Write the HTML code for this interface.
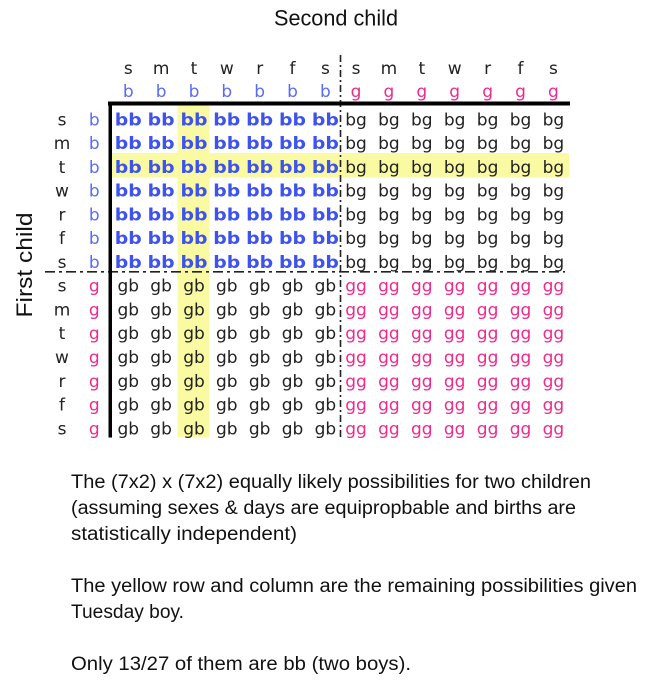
<!DOCTYPE html>
<html>
<head>
<meta charset="utf-8">
<style>
  html,body{margin:0;padding:0;background:#fff;}
  svg{display:block;}
  .g text{font-family:"DejaVu Sans",sans-serif;font-size:17px;text-anchor:middle;}
  .B text{font-family:"DejaVu Sans",sans-serif;font-weight:bold;font-size:17px;fill:#3d52ee;text-anchor:middle;}
  .N{fill:#222;}
  .P{fill:#ee2a8c;}
  .L{fill:#5a6cf3;}
  .cal{font-family:"Liberation Sans",sans-serif;fill:#111;}
</style>
</head>
<body>
<svg width="655" height="693" viewBox="0 0 655 693" xmlns="http://www.w3.org/2000/svg">
  <rect width="655" height="693" fill="#fff"/>
  <!-- yellow highlights -->
  <rect x="112" y="153" width="457" height="24.5" fill="#fafaa2"/>
  <rect x="177.5" y="105" width="32" height="332" fill="#fafaa2"/>

  <!-- titles -->
  <text class="cal" x="336" y="25.7" font-size="22" text-anchor="middle" textLength="124" lengthAdjust="spacingAndGlyphs">Second child</text>
  <text class="cal" transform="translate(32,265) rotate(-90)" x="0" y="0" font-size="22" text-anchor="middle" textLength="105" lengthAdjust="spacingAndGlyphs">First child</text>

  <g class="g">
    <!-- header day letters -->
    <text class="N" y="74"><tspan x="128.3">s</tspan><tspan x="161.1">m</tspan><tspan x="194">t</tspan><tspan x="226.8">w</tspan><tspan x="259.7">r</tspan><tspan x="292.5">f</tspan><tspan x="325.4">s</tspan><tspan x="356">s</tspan><tspan x="388.9">m</tspan><tspan x="421.8">t</tspan><tspan x="454.7">w</tspan><tspan x="487.6">r</tspan><tspan x="520.5">f</tspan><tspan x="553.4">s</tspan></text>
    <text class="L" y="97"><tspan x="128.3">b</tspan><tspan x="161.1">b</tspan><tspan x="194">b</tspan><tspan x="226.8">b</tspan><tspan x="259.7">b</tspan><tspan x="292.5">b</tspan><tspan x="325.4">b</tspan></text>
    <text class="P" y="97"><tspan x="356">g</tspan><tspan x="388.9">g</tspan><tspan x="421.8">g</tspan><tspan x="454.7">g</tspan><tspan x="487.6">g</tspan><tspan x="520.5">g</tspan><tspan x="553.4">g</tspan></text>

    <!-- row labels -->
    <text class="N" x="62"><tspan x="62" y="125.3">s</tspan><tspan x="62" y="149.1">m</tspan><tspan x="62" y="172.8">t</tspan><tspan x="62" y="196.6">w</tspan><tspan x="62" y="220.4">r</tspan><tspan x="62" y="244.2">f</tspan><tspan x="62" y="267.9">s</tspan><tspan x="62" y="291.7">s</tspan><tspan x="62" y="315.5">m</tspan><tspan x="62" y="339.2">t</tspan><tspan x="62" y="363">w</tspan><tspan x="62" y="386.8">r</tspan><tspan x="62" y="410.5">f</tspan><tspan x="62" y="434.3">s</tspan></text>
    <text class="L"><tspan x="94.3" y="125.3">b</tspan><tspan x="94.3" y="149.1">b</tspan><tspan x="94.3" y="172.8">b</tspan><tspan x="94.3" y="196.6">b</tspan><tspan x="94.3" y="220.4">b</tspan><tspan x="94.3" y="244.2">b</tspan><tspan x="94.3" y="267.9">b</tspan></text>
    <text class="P"><tspan x="94.3" y="291.7">g</tspan><tspan x="94.3" y="315.5">g</tspan><tspan x="94.3" y="339.2">g</tspan><tspan x="94.3" y="363">g</tspan><tspan x="94.3" y="386.8">g</tspan><tspan x="94.3" y="410.5">g</tspan><tspan x="94.3" y="434.3">g</tspan></text>

    <!-- bg rows (0-6, cols 7-13) -->
    <text class="N" y="125.3"><tspan x="356">bg</tspan><tspan x="388.9">bg</tspan><tspan x="421.8">bg</tspan><tspan x="454.7">bg</tspan><tspan x="487.6">bg</tspan><tspan x="520.5">bg</tspan><tspan x="553.4">bg</tspan></text>
    <text class="N" y="149.1"><tspan x="356">bg</tspan><tspan x="388.9">bg</tspan><tspan x="421.8">bg</tspan><tspan x="454.7">bg</tspan><tspan x="487.6">bg</tspan><tspan x="520.5">bg</tspan><tspan x="553.4">bg</tspan></text>
    <text class="N" y="172.8"><tspan x="356">bg</tspan><tspan x="388.9">bg</tspan><tspan x="421.8">bg</tspan><tspan x="454.7">bg</tspan><tspan x="487.6">bg</tspan><tspan x="520.5">bg</tspan><tspan x="553.4">bg</tspan></text>
    <text class="N" y="196.6"><tspan x="356">bg</tspan><tspan x="388.9">bg</tspan><tspan x="421.8">bg</tspan><tspan x="454.7">bg</tspan><tspan x="487.6">bg</tspan><tspan x="520.5">bg</tspan><tspan x="553.4">bg</tspan></text>
    <text class="N" y="220.4"><tspan x="356">bg</tspan><tspan x="388.9">bg</tspan><tspan x="421.8">bg</tspan><tspan x="454.7">bg</tspan><tspan x="487.6">bg</tspan><tspan x="520.5">bg</tspan><tspan x="553.4">bg</tspan></text>
    <text class="N" y="244.2"><tspan x="356">bg</tspan><tspan x="388.9">bg</tspan><tspan x="421.8">bg</tspan><tspan x="454.7">bg</tspan><tspan x="487.6">bg</tspan><tspan x="520.5">bg</tspan><tspan x="553.4">bg</tspan></text>
    <text class="N" y="267.9"><tspan x="356">bg</tspan><tspan x="388.9">bg</tspan><tspan x="421.8">bg</tspan><tspan x="454.7">bg</tspan><tspan x="487.6">bg</tspan><tspan x="520.5">bg</tspan><tspan x="553.4">bg</tspan></text>

    <!-- gb rows (7-13, cols 0-6) -->
    <text class="N" y="291.7"><tspan x="128.3">gb</tspan><tspan x="161.1">gb</tspan><tspan x="194">gb</tspan><tspan x="226.8">gb</tspan><tspan x="259.7">gb</tspan><tspan x="292.5">gb</tspan><tspan x="325.4">gb</tspan></text>
    <text class="N" y="315.5"><tspan x="128.3">gb</tspan><tspan x="161.1">gb</tspan><tspan x="194">gb</tspan><tspan x="226.8">gb</tspan><tspan x="259.7">gb</tspan><tspan x="292.5">gb</tspan><tspan x="325.4">gb</tspan></text>
    <text class="N" y="339.2"><tspan x="128.3">gb</tspan><tspan x="161.1">gb</tspan><tspan x="194">gb</tspan><tspan x="226.8">gb</tspan><tspan x="259.7">gb</tspan><tspan x="292.5">gb</tspan><tspan x="325.4">gb</tspan></text>
    <text class="N" y="363"><tspan x="128.3">gb</tspan><tspan x="161.1">gb</tspan><tspan x="194">gb</tspan><tspan x="226.8">gb</tspan><tspan x="259.7">gb</tspan><tspan x="292.5">gb</tspan><tspan x="325.4">gb</tspan></text>
    <text class="N" y="386.8"><tspan x="128.3">gb</tspan><tspan x="161.1">gb</tspan><tspan x="194">gb</tspan><tspan x="226.8">gb</tspan><tspan x="259.7">gb</tspan><tspan x="292.5">gb</tspan><tspan x="325.4">gb</tspan></text>
    <text class="N" y="410.5"><tspan x="128.3">gb</tspan><tspan x="161.1">gb</tspan><tspan x="194">gb</tspan><tspan x="226.8">gb</tspan><tspan x="259.7">gb</tspan><tspan x="292.5">gb</tspan><tspan x="325.4">gb</tspan></text>
    <text class="N" y="434.3"><tspan x="128.3">gb</tspan><tspan x="161.1">gb</tspan><tspan x="194">gb</tspan><tspan x="226.8">gb</tspan><tspan x="259.7">gb</tspan><tspan x="292.5">gb</tspan><tspan x="325.4">gb</tspan></text>

    <!-- gg rows (7-13, cols 7-13) -->
    <text class="P" y="291.7"><tspan x="356">gg</tspan><tspan x="388.9">gg</tspan><tspan x="421.8">gg</tspan><tspan x="454.7">gg</tspan><tspan x="487.6">gg</tspan><tspan x="520.5">gg</tspan><tspan x="553.4">gg</tspan></text>
    <text class="P" y="315.5"><tspan x="356">gg</tspan><tspan x="388.9">gg</tspan><tspan x="421.8">gg</tspan><tspan x="454.7">gg</tspan><tspan x="487.6">gg</tspan><tspan x="520.5">gg</tspan><tspan x="553.4">gg</tspan></text>
    <text class="P" y="339.2"><tspan x="356">gg</tspan><tspan x="388.9">gg</tspan><tspan x="421.8">gg</tspan><tspan x="454.7">gg</tspan><tspan x="487.6">gg</tspan><tspan x="520.5">gg</tspan><tspan x="553.4">gg</tspan></text>
    <text class="P" y="363"><tspan x="356">gg</tspan><tspan x="388.9">gg</tspan><tspan x="421.8">gg</tspan><tspan x="454.7">gg</tspan><tspan x="487.6">gg</tspan><tspan x="520.5">gg</tspan><tspan x="553.4">gg</tspan></text>
    <text class="P" y="386.8"><tspan x="356">gg</tspan><tspan x="388.9">gg</tspan><tspan x="421.8">gg</tspan><tspan x="454.7">gg</tspan><tspan x="487.6">gg</tspan><tspan x="520.5">gg</tspan><tspan x="553.4">gg</tspan></text>
    <text class="P" y="410.5"><tspan x="356">gg</tspan><tspan x="388.9">gg</tspan><tspan x="421.8">gg</tspan><tspan x="454.7">gg</tspan><tspan x="487.6">gg</tspan><tspan x="520.5">gg</tspan><tspan x="553.4">gg</tspan></text>
    <text class="P" y="434.3"><tspan x="356">gg</tspan><tspan x="388.9">gg</tspan><tspan x="421.8">gg</tspan><tspan x="454.7">gg</tspan><tspan x="487.6">gg</tspan><tspan x="520.5">gg</tspan><tspan x="553.4">gg</tspan></text>
  </g>

  <!-- bold bb cells -->
  <g class="B">
    <text x="128.3" y="125.3" textLength="27" lengthAdjust="spacingAndGlyphs">bb</text><text x="161.1" y="125.3" textLength="27" lengthAdjust="spacingAndGlyphs">bb</text><text x="194" y="125.3" textLength="27" lengthAdjust="spacingAndGlyphs">bb</text><text x="226.8" y="125.3" textLength="27" lengthAdjust="spacingAndGlyphs">bb</text><text x="259.7" y="125.3" textLength="27" lengthAdjust="spacingAndGlyphs">bb</text><text x="292.5" y="125.3" textLength="27" lengthAdjust="spacingAndGlyphs">bb</text><text x="325.4" y="125.3" textLength="27" lengthAdjust="spacingAndGlyphs">bb</text>
    <text x="128.3" y="149.1" textLength="27" lengthAdjust="spacingAndGlyphs">bb</text><text x="161.1" y="149.1" textLength="27" lengthAdjust="spacingAndGlyphs">bb</text><text x="194" y="149.1" textLength="27" lengthAdjust="spacingAndGlyphs">bb</text><text x="226.8" y="149.1" textLength="27" lengthAdjust="spacingAndGlyphs">bb</text><text x="259.7" y="149.1" textLength="27" lengthAdjust="spacingAndGlyphs">bb</text><text x="292.5" y="149.1" textLength="27" lengthAdjust="spacingAndGlyphs">bb</text><text x="325.4" y="149.1" textLength="27" lengthAdjust="spacingAndGlyphs">bb</text>
    <text x="128.3" y="172.8" textLength="27" lengthAdjust="spacingAndGlyphs">bb</text><text x="161.1" y="172.8" textLength="27" lengthAdjust="spacingAndGlyphs">bb</text><text x="194" y="172.8" textLength="27" lengthAdjust="spacingAndGlyphs">bb</text><text x="226.8" y="172.8" textLength="27" lengthAdjust="spacingAndGlyphs">bb</text><text x="259.7" y="172.8" textLength="27" lengthAdjust="spacingAndGlyphs">bb</text><text x="292.5" y="172.8" textLength="27" lengthAdjust="spacingAndGlyphs">bb</text><text x="325.4" y="172.8" textLength="27" lengthAdjust="spacingAndGlyphs">bb</text>
    <text x="128.3" y="196.6" textLength="27" lengthAdjust="spacingAndGlyphs">bb</text><text x="161.1" y="196.6" textLength="27" lengthAdjust="spacingAndGlyphs">bb</text><text x="194" y="196.6" textLength="27" lengthAdjust="spacingAndGlyphs">bb</text><text x="226.8" y="196.6" textLength="27" lengthAdjust="spacingAndGlyphs">bb</text><text x="259.7" y="196.6" textLength="27" lengthAdjust="spacingAndGlyphs">bb</text><text x="292.5" y="196.6" textLength="27" lengthAdjust="spacingAndGlyphs">bb</text><text x="325.4" y="196.6" textLength="27" lengthAdjust="spacingAndGlyphs">bb</text>
    <text x="128.3" y="220.4" textLength="27" lengthAdjust="spacingAndGlyphs">bb</text><text x="161.1" y="220.4" textLength="27" lengthAdjust="spacingAndGlyphs">bb</text><text x="194" y="220.4" textLength="27" lengthAdjust="spacingAndGlyphs">bb</text><text x="226.8" y="220.4" textLength="27" lengthAdjust="spacingAndGlyphs">bb</text><text x="259.7" y="220.4" textLength="27" lengthAdjust="spacingAndGlyphs">bb</text><text x="292.5" y="220.4" textLength="27" lengthAdjust="spacingAndGlyphs">bb</text><text x="325.4" y="220.4" textLength="27" lengthAdjust="spacingAndGlyphs">bb</text>
    <text x="128.3" y="244.2" textLength="27" lengthAdjust="spacingAndGlyphs">bb</text><text x="161.1" y="244.2" textLength="27" lengthAdjust="spacingAndGlyphs">bb</text><text x="194" y="244.2" textLength="27" lengthAdjust="spacingAndGlyphs">bb</text><text x="226.8" y="244.2" textLength="27" lengthAdjust="spacingAndGlyphs">bb</text><text x="259.7" y="244.2" textLength="27" lengthAdjust="spacingAndGlyphs">bb</text><text x="292.5" y="244.2" textLength="27" lengthAdjust="spacingAndGlyphs">bb</text><text x="325.4" y="244.2" textLength="27" lengthAdjust="spacingAndGlyphs">bb</text>
    <text x="128.3" y="267.9" textLength="27" lengthAdjust="spacingAndGlyphs">bb</text><text x="161.1" y="267.9" textLength="27" lengthAdjust="spacingAndGlyphs">bb</text><text x="194" y="267.9" textLength="27" lengthAdjust="spacingAndGlyphs">bb</text><text x="226.8" y="267.9" textLength="27" lengthAdjust="spacingAndGlyphs">bb</text><text x="259.7" y="267.9" textLength="27" lengthAdjust="spacingAndGlyphs">bb</text><text x="292.5" y="267.9" textLength="27" lengthAdjust="spacingAndGlyphs">bb</text><text x="325.4" y="267.9" textLength="27" lengthAdjust="spacingAndGlyphs">bb</text>
  </g>

  <!-- dashed separators -->
  <line x1="340.5" y1="55" x2="340.5" y2="437" stroke="#222" stroke-width="1.6" stroke-dasharray="7,3,2,3"/>
  <line x1="45" y1="271.8" x2="565" y2="271.8" stroke="#222" stroke-width="1.6" stroke-dasharray="10,4,3,4"/>

  <!-- heavy axes -->
  <rect x="108" y="101.5" width="462" height="4" fill="#000"/>
  <rect x="108.5" y="101.5" width="3.5" height="336" fill="#000"/>

  <!-- caption -->
  <g class="cal" font-size="19">
    <text x="71" y="488" textLength="520" lengthAdjust="spacingAndGlyphs">The (7x2) x (7x2) equally likely possibilities for two children</text>
    <text x="71" y="514" textLength="505" lengthAdjust="spacingAndGlyphs">(assuming sexes &amp; days are equipropbable and births are</text>
    <text x="71" y="540" textLength="226" lengthAdjust="spacingAndGlyphs">statistically independent)</text>
    <text x="71" y="592" textLength="566" lengthAdjust="spacingAndGlyphs">The yellow row and column are the remaining possibilities given</text>
    <text x="71" y="618" textLength="113" lengthAdjust="spacingAndGlyphs">Tuesday boy.</text>
    <text x="71" y="670" textLength="340" lengthAdjust="spacingAndGlyphs">Only 13/27 of them are bb (two boys).</text>
  </g>
</svg>
</body>
</html>
